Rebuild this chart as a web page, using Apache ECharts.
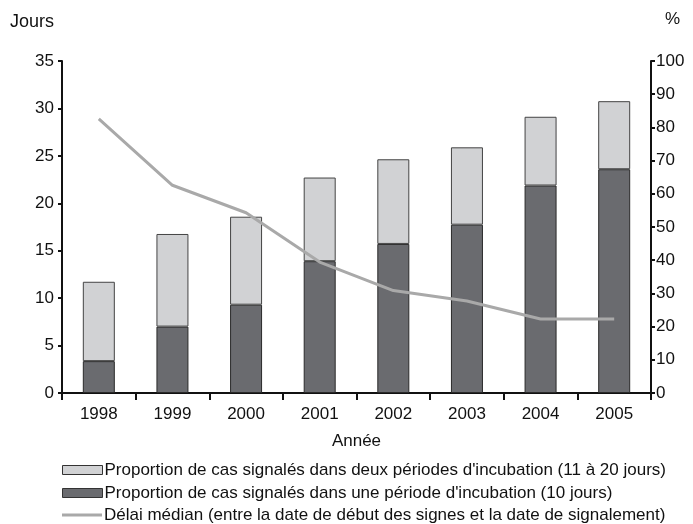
<!DOCTYPE html>
<html><head><meta charset="utf-8">
<script src="https://cdn.jsdelivr.net/npm/echarts@6/dist/echarts.min.js"></script>
<style>html,body{margin:0;padding:0;background:#fff}#c{width:693px;height:524px}</style>
</head><body><div id="c"></div>
<script>
var years = ['1998','1999','2000','2001','2002','2003','2004','2005'];
var darkPct = [9.6, 20.0, 26.6, 39.7, 44.9, 50.7, 62.5, 67.4];
var lightPct = [23.9, 27.9, 26.5, 25.2, 25.5, 23.3, 20.7, 20.5];
var medianDays = [28.9, 21.9, 19.0, 13.8, 10.8, 9.7, 7.8, 7.8];
var nameLight = "Proportion de cas signalés dans deux périodes d'incubation (11 à 20 jours)";
var nameDark = "Proportion de cas signalés dans une période d'incubation (10 jours)";
var nameLine = "Délai médian (entre la date de début des signes et la date de signalement)";
var FONT = '"Liberation Sans", Arial, sans-serif';
var legTxt = {fontFamily:FONT, fontSize:17, lineHeight:18, color:'#111', padding:[0,0,0,-3]};
var chart = echarts.init(document.getElementById('c'), null, {renderer:'canvas'});
chart.setOption({
  animation:false,
  textStyle:{fontFamily:FONT, color:'#111'},
  grid:{left:62, right:42, top:61, bottom:131, containLabel:false},
  legend:[
    {orient:'horizontal', left:62, top:461, itemWidth:40, itemHeight:9, padding:0,
     textStyle:legTxt, selectedMode:false,
     data:[{name:nameLight, icon:'rect', itemStyle:{color:'#d1d2d4', borderColor:'#333', borderWidth:1}}]},
    {orient:'horizontal', left:62, top:484, itemWidth:40, itemHeight:9, padding:0,
     textStyle:legTxt, selectedMode:false,
     data:[{name:nameDark, icon:'rect', itemStyle:{color:'#6a6b6f', borderColor:'#333', borderWidth:1}}]},
    {orient:'horizontal', left:62, top:506, itemWidth:40, itemHeight:3, padding:0,
     textStyle:legTxt, selectedMode:false,
     data:[{name:nameLine, icon:'rect', itemStyle:{color:'#a9a9a9', borderWidth:0}}]}
  ],
  xAxis:{
    type:'category', data:years, boundaryGap:true,
    name:'Année', nameLocation:'middle', nameGap:40,
    nameTextStyle:{fontFamily:FONT, fontSize:17, color:'#111'},
    axisLine:{lineStyle:{color:'#111', width:2}},
    axisTick:{show:true, inside:false, length:7, lineStyle:{color:'#111', width:2}},
    axisLabel:{fontFamily:FONT, fontSize:17, color:'#111', margin:13}
  },
  yAxis:[
    {type:'value', min:0, max:35, interval:5, position:'left',
     name:'Jours', nameLocation:'end', nameGap:30,
     nameTextStyle:{fontFamily:FONT, fontSize:18, color:'#111', align:'left', padding:[0,0,0,-52]},
     axisLine:{show:true, lineStyle:{color:'#111', width:2}},
     axisTick:{show:true, inside:false, length:4, lineStyle:{color:'#111', width:2}},
     axisLabel:{fontFamily:FONT, fontSize:17, color:'#111', margin:8},
     splitLine:{show:false}},
    {type:'value', min:0, max:100, interval:10, position:'right',
     name:'%', nameLocation:'end', nameGap:33,
     nameTextStyle:{fontFamily:FONT, fontSize:17, color:'#111', align:'left', padding:[0,0,0,14]},
     axisLine:{show:true, lineStyle:{color:'#111', width:2}},
     axisTick:{show:true, inside:false, length:4, lineStyle:{color:'#111', width:2}},
     axisLabel:{fontFamily:FONT, fontSize:17, color:'#111', margin:5},
     splitLine:{show:false}}
  ],
  series:[
    {name:nameDark, type:'bar', stack:'p', yAxisIndex:1, data:darkPct, barWidth:32,
     itemStyle:{color:'#6a6b6f', borderColor:'#2a2a2a', borderWidth:1}},
    {name:nameLight, type:'bar', stack:'p', yAxisIndex:1, data:lightPct, barWidth:32,
     itemStyle:{color:'#d1d2d4', borderColor:'#444', borderWidth:1}},
    {name:nameLine, type:'line', yAxisIndex:0, data:medianDays, symbol:'none',
     lineStyle:{color:'#a9a9a9', width:3}, itemStyle:{color:'#a9a9a9'}, z:5}
  ]
});
</script></body></html>
